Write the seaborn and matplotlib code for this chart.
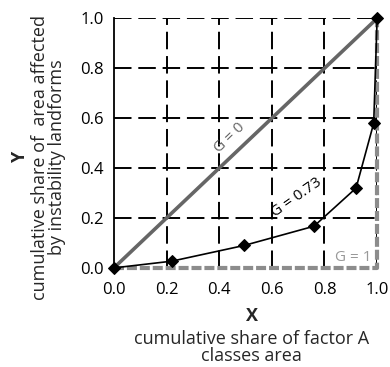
import numpy as np
import pandas as pd
import matplotlib.pyplot as plt
import seaborn as sns

# cumulative shares (Lorenz curve)
x_share = [0.0, 0.22, 0.495, 0.76, 0.92, 0.987, 1.0]
y_share = [0.0, 0.027, 0.09, 0.167, 0.32, 0.58, 1.0]
equal_x = [0.0, 1.0]
equal_y = [0.0, 1.0]
max_x = [0.0, 1.0, 1.0]
max_y = [0.0, 0.0, 1.0]
ticks = [0.0, 0.2, 0.4, 0.6, 0.8, 1.0]

sns.set_style("white")
plt.rcParams['font.family'] = ['Open Sans', 'DejaVu Sans']

curve_df = pd.DataFrame({"x": x_share, "y": y_share})

fig = plt.figure(figsize=(3.9, 3.67), dpi=100)
ax = fig.add_axes([0.292, 0.27, 0.675, 0.68])

for t in ticks[1:]:
    ax.axvline(t, color='black', ls=(0, (9, 3.5)), lw=1.4, zorder=1)
    ax.axhline(t, color='black', ls=(0, (9, 3.5)), lw=1.4, zorder=1)

ax.plot(max_x, max_y, color='#8c8c8c', ls=(0, (2.4, 0.7)), lw=3, zorder=2, clip_on=False)
sns.lineplot(x=equal_x, y=equal_y, color='#666666', lw=2.6, ax=ax, zorder=3)
sns.lineplot(data=curve_df, x="x", y="y", color='black', lw=1.2, marker='D',
             markersize=6, markeredgecolor='black', ax=ax, zorder=4, sort=False,
             estimator=None)
for ln in ax.lines[-1:]:
    ln.set_clip_on(False)

ax.text(0.40, 0.46, "G = 0", rotation=44, color='#666666', fontsize=11,
        ha='left', va='baseline', rotation_mode='anchor')
ax.text(0.612, 0.205, "G = 0.73", rotation=35, color='black', fontsize=11,
        ha='left', va='baseline', rotation_mode='anchor')
ax.text(0.84, 0.027, "G = 1", color='#999999', fontsize=11,
        ha='left', va='baseline')

ax.set_xlim(0, 1)
ax.set_ylim(0, 1)
ax.set_xticks(ticks)
ax.set_yticks(ticks)
ax.set_xticklabels([f"{t:.1f}" for t in ticks])
ax.set_yticklabels([f"{t:.1f}" for t in ticks])
ax.tick_params(axis='both', labelsize=12, length=4, width=1, direction='out',
               colors='black')
ax.tick_params(axis='x', pad=6)
ax.set_xlabel("")
ax.set_ylabel("")
for side in ['top', 'right', 'bottom']:
    ax.spines[side].set_visible(False)
ax.spines['left'].set_color('black')
ax.spines['left'].set_linewidth(1.3)

fig.text(0.052, 0.572, "Y", rotation=90, fontsize=13, fontweight='bold',
         ha='center', va='center')
fig.text(0.125, 0.572, "cumulative share of  area affected\nby instability landforms",
         rotation=90, fontsize=13, ha='center', va='center', linespacing=0.95)
fig.text(0.645, 0.139, "X", fontsize=13, fontweight='bold', ha='center', va='center')
fig.text(0.645, 0.054, "cumulative share of factor A\nclasses area",
         fontsize=13, ha='center', va='center', linespacing=0.95)

fig.savefig("out.png", dpi=100)
